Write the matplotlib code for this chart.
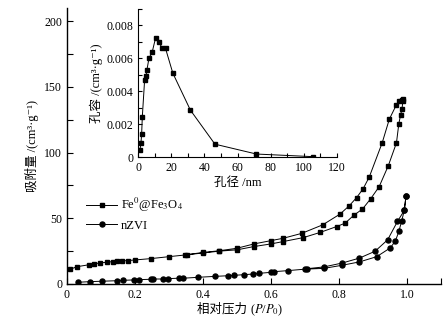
import matplotlib
matplotlib.use("Agg")
import matplotlib.pyplot as plt
from matplotlib.ticker import MultipleLocator, FixedLocator

plt.rcParams['font.family'] = ['Liberation Serif', 'DejaVu Serif', 'Noto Sans CJK SC']
plt.rcParams['mathtext.fontset'] = 'stix'
plt.rcParams['font.size'] = 8.5

# Fe0@Fe3O4 isotherm (adsorption branch, then desorption branch)
fe_ads_p = [0.009, 0.03, 0.066, 0.079, 0.097, 0.118, 0.134, 0.148, 0.163, 0.179, 0.2, 0.246,
            0.3, 0.348, 0.40, 0.448, 0.50, 0.55, 0.60, 0.636, 0.695, 0.744, 0.793, 0.818,
            0.844, 0.869, 0.893, 0.918, 0.945, 0.969, 0.976, 0.981, 0.985, 0.988]
fe_ads_v = [11.2, 13.2, 14.7, 15.3, 16.0, 16.6, 17.0, 17.4, 17.6, 17.8, 18.3, 19.3,
            20.8, 22.1, 23.6, 25.0, 26.0, 28.5, 30.5, 32.3, 35.3, 39.2, 43.7, 46.3,
            52.4, 57.0, 64.8, 74.0, 90.0, 107.4, 122.0, 128.5, 132.8, 139.0]
fe_des_p = [0.988, 0.986, 0.976, 0.968, 0.948, 0.927, 0.889, 0.871, 0.852, 0.83, 0.803,
            0.752, 0.69, 0.636, 0.60, 0.55, 0.50, 0.448, 0.40, 0.352]
fe_des_v = [140.5, 139.7, 139.2, 135.9, 125.4, 107.4, 81.4, 72.5, 65.8, 59.5, 53.2,
            45.0, 38.5, 34.8, 33.0, 30.5, 27.2, 25.3, 24.0, 22.3]

# nZVI isotherm
nz_ads_p = [0.031, 0.068, 0.102, 0.146, 0.164, 0.197, 0.211, 0.247, 0.254, 0.283, 0.298,
            0.328, 0.342, 0.386, 0.435, 0.474, 0.492, 0.521, 0.548, 0.565, 0.6, 0.61,
            0.651, 0.7, 0.756, 0.81, 0.86, 0.911, 0.951, 0.966, 0.976, 0.984, 0.992, 0.997]
nz_ads_v = [1.3, 1.8, 2.1, 2.5, 2.8, 3.1, 3.3, 3.6, 3.8, 3.8, 4.1,
            4.4, 4.4, 5.1, 5.8, 6.3, 6.6, 7.1, 7.6, 8.1, 8.9, 9.4,
            10.2, 11.3, 11.9, 14.3, 16.8, 20.8, 27.5, 32.8, 40.0, 47.6, 56.0, 66.7]
nz_des_p = [0.997, 0.992, 0.972, 0.943, 0.906, 0.86, 0.81, 0.756, 0.705]
nz_des_v = [66.7, 56.0, 47.6, 33.6, 24.9, 19.7, 16.0, 13.0, 11.6]

# pore size distribution (inset)
pore_d = [1.2, 1.8, 2.2, 2.6, 4.0, 4.8, 5.4, 6.6, 8.6, 10.6, 12.4, 14.6, 16.6, 21.0,
          31.6, 46.4, 71.4, 105.8]
pore_v = [0.00043, 0.00088, 0.0014, 0.00244, 0.0047, 0.0049, 0.0053, 0.0060, 0.0064,
          0.00724, 0.00697, 0.00665, 0.0066, 0.0051, 0.00285, 0.00078, 0.00018, 0.00002]

fig = plt.figure(figsize=(4.46, 3.31), dpi=100)
ax = fig.add_axes([67 / 446, 47 / 331, 374 / 446, 276 / 331])

lw = 0.7
ax.plot(fe_ads_p + fe_des_p, fe_ads_v + fe_des_v, color='black', lw=lw,
        marker='s', ms=3.0, label='Fe$^0$@Fe$_3$O$_4$')
ax.plot(nz_ads_p + nz_des_p, nz_ads_v + nz_des_v, color='black', lw=lw,
        marker='o', ms=3.6, label='nZVI')

ax.set_xlim(0, 1.1)
ax.set_ylim(0, 210)
ax.xaxis.set_major_locator(FixedLocator([0, 0.2, 0.4, 0.6, 0.8, 1.0]))
ax.set_xticklabels(['0', '0.2', '0.4', '0.6', '0.8', '1.0'])
ax.xaxis.set_minor_locator(FixedLocator([1.1]))
ax.yaxis.set_major_locator(MultipleLocator(50))
ax.yaxis.set_minor_locator(MultipleLocator(25))
for s in ['top', 'right']:
    ax.spines[s].set_visible(False)
for s in ['left', 'bottom']:
    ax.spines[s].set_linewidth(1.0)
ax.tick_params(which='both', direction='in', width=0.8)
ax.tick_params(which='major', length=4)
ax.tick_params(which='minor', length=4)

# x label: Chinese part and math part drawn side by side
ax.text(0.49, -0.105, '相对压力 ', transform=ax.transAxes, ha='right',
        va='baseline', fontsize=9)
ax.text(0.49, -0.105, '($P$/$P_0$)', transform=ax.transAxes, ha='left',
        va='baseline', fontsize=9)
ax.set_ylabel('吸附量 /(cm³·g⁻¹)', fontsize=9)

ax.legend(loc='upper left', bbox_to_anchor=(86 / 446, 1 - 196 / 331),
          bbox_transform=fig.transFigure, frameon=False, fontsize=9,
          handlelength=2.5, handletextpad=0.3, labelspacing=0.45,
          borderpad=0, borderaxespad=0)

# inset: pore size distribution
ins = fig.add_axes([138 / 446, 174 / 331, 199 / 446, 148 / 331])
ins.plot(pore_d, pore_v, color='black', lw=lw, marker='s', ms=3.0)
ins.set_xlim(0, 120)
ins.set_ylim(0, 0.009)
ins.xaxis.set_major_locator(MultipleLocator(20))
ins.xaxis.set_minor_locator(MultipleLocator(10))
ins.yaxis.set_major_locator(FixedLocator([0, 0.002, 0.004, 0.006, 0.008]))
ins.set_yticklabels(['0', '0.002', '0.004', '0.006', '0.008'])
ins.yaxis.set_minor_locator(MultipleLocator(0.001))
for s in ['top', 'right']:
    ins.spines[s].set_visible(False)
ins.tick_params(which='both', direction='in', width=0.8, length=3)
ins.set_xlabel('孔径 /nm', fontsize=9, labelpad=2)
ins.set_ylabel('孔容 /(cm³·g⁻¹)', fontsize=9, labelpad=2)

fig.savefig('out.png', dpi=100)
